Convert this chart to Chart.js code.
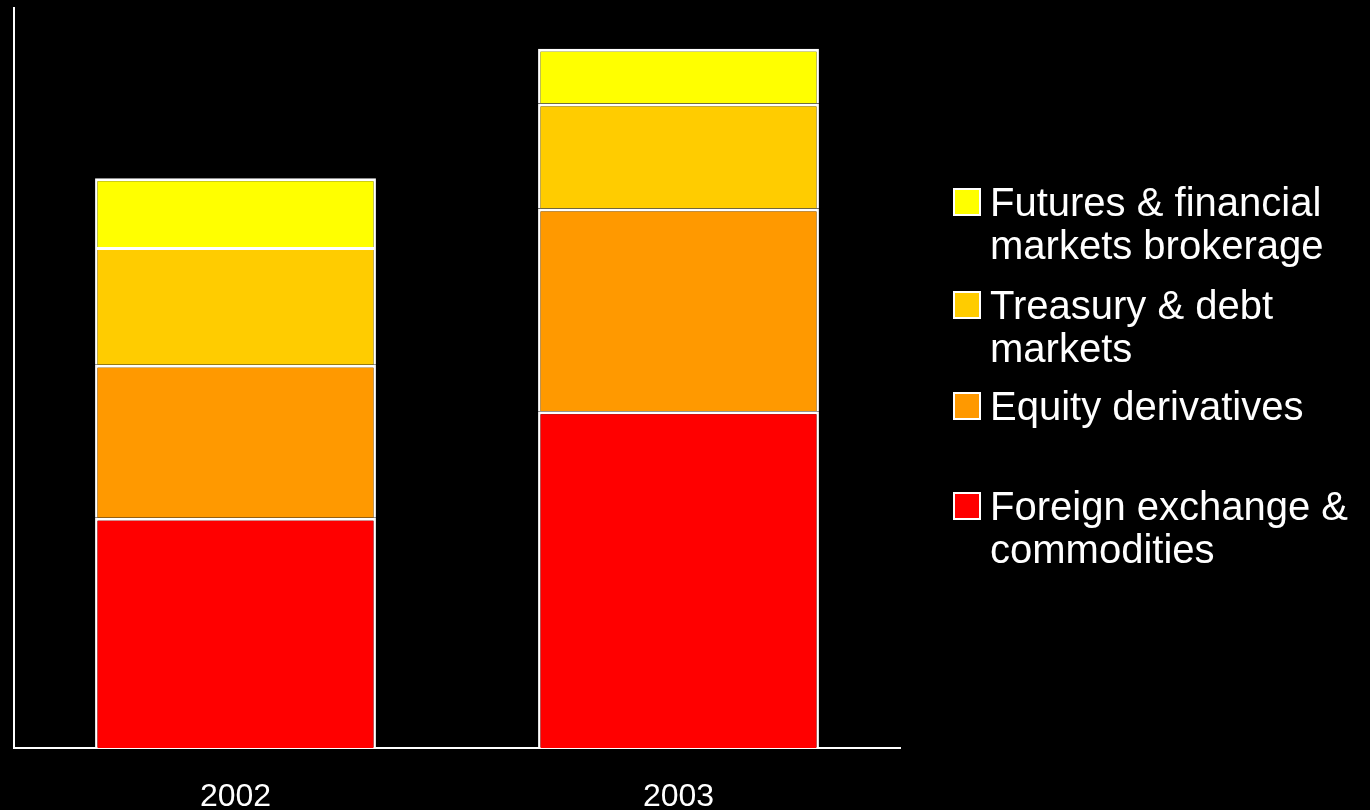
<!DOCTYPE html>
<html>
<head>
<meta charset="utf-8">
<title>Revenue by business line</title>
<script src="https://cdn.jsdelivr.net/npm/chart.js@4.4.0/dist/chart.umd.min.js"></script>
<style>
  html, body { margin: 0; padding: 0; background: #000; }
  #wrap { position: relative; width: 1370px; height: 810px; }
  #legend { position: absolute; left: 0; top: 0; font-family: "Liberation Sans", Arial, sans-serif; color: #fff; font-size: 40px; line-height: 43px; }
  .item { position: absolute; left: 990px; white-space: nowrap; }
  .box { position: absolute; left: 953px; width: 24px; height: 24px; border: 2px solid #fff; }
</style>
</head>
<body>
<div id="wrap">
  <canvas id="grafica"></canvas>
  <div id="legend"></div>
</div>
<script>
// years and business lines
const years = ["2002", "2003"];
const lines = [
  "Foreign exchange & commodities",
  "Equity derivatives",
  "Treasury & debt markets",
  "Futures & financial markets brokerage",
];
// stacked values, bottom segment first
const fxCommodities = [31.1, 45.5];
const equityDeriv = [20.7, 27.4];
const treasuryDebt = [15.9, 14.2];
const futuresBrokerage = [9.3, 7.4];

const colors = ["#FF0000", "#FF9900", "#FFCC00", "#FFFF00"];
const series = [fxCommodities, equityDeriv, treasuryDebt, futuresBrokerage];

const ctx = document.getElementById("grafica").getContext("2d");

const chart = new Chart(ctx, {
  type: "bar",
  data: {
    labels: years,
    datasets: series.map((vals, i) => ({
      label: lines[i],
      data: vals,
      backgroundColor: colors[i],
      borderColor: "#FFFFFF",
      borderWidth: { top: 3, left: 2.5, right: 2.5, bottom: 0 },
      borderSkipped: false,
      barPercentage: 0.634,
      categoryPercentage: 1,
    })),
  },
  options: {
    responsive: true,
    maintainAspectRatio: false,
    animation: false,
    layout: { padding: { top: 8, right: 470, left: 14, bottom: 0 } },
    plugins: { legend: { display: false }, tooltip: { enabled: false } },
    scales: {
      x: {
        stacked: true,
        grid: { display: false },
        border: { color: "#FFFFFF", width: 2 },
        ticks: {
          color: "#FFFFFF",
          padding: 22,
          font: { family: "'Liberation Sans', Arial, sans-serif", size: 32 },
        },
        afterFit: (scale) => { scale.height = 62; },
      },
      y: {
        stacked: true,
        min: 0,
        max: 100,
        grid: { display: false },
        border: { color: "#FFFFFF", width: 2 },
        ticks: { display: false },
        afterFit: (scale) => { scale.width = 0; },
      },
    },
  },
});

// legend on the right, top item is the top segment
const legendTops = [181, 284, 385, 485];
const legendText = [
  ["Futures & financial", "markets brokerage"],
  ["Treasury & debt", "markets"],
  ["Equity derivatives"],
  ["Foreign exchange &", "commodities"],
];
const legend = document.getElementById("legend");
legendText.forEach((txt, i) => {
  const color = colors[3 - i];
  const top = legendTops[i];
  const box = document.createElement("div");
  box.className = "box";
  box.style.top = (top + 7) + "px";
  box.style.background = color;
  legend.appendChild(box);
  const item = document.createElement("div");
  item.className = "item";
  item.style.top = top + "px";
  item.innerHTML = txt.join("<br>");
  legend.appendChild(item);
});
</script>
</body>
</html>
